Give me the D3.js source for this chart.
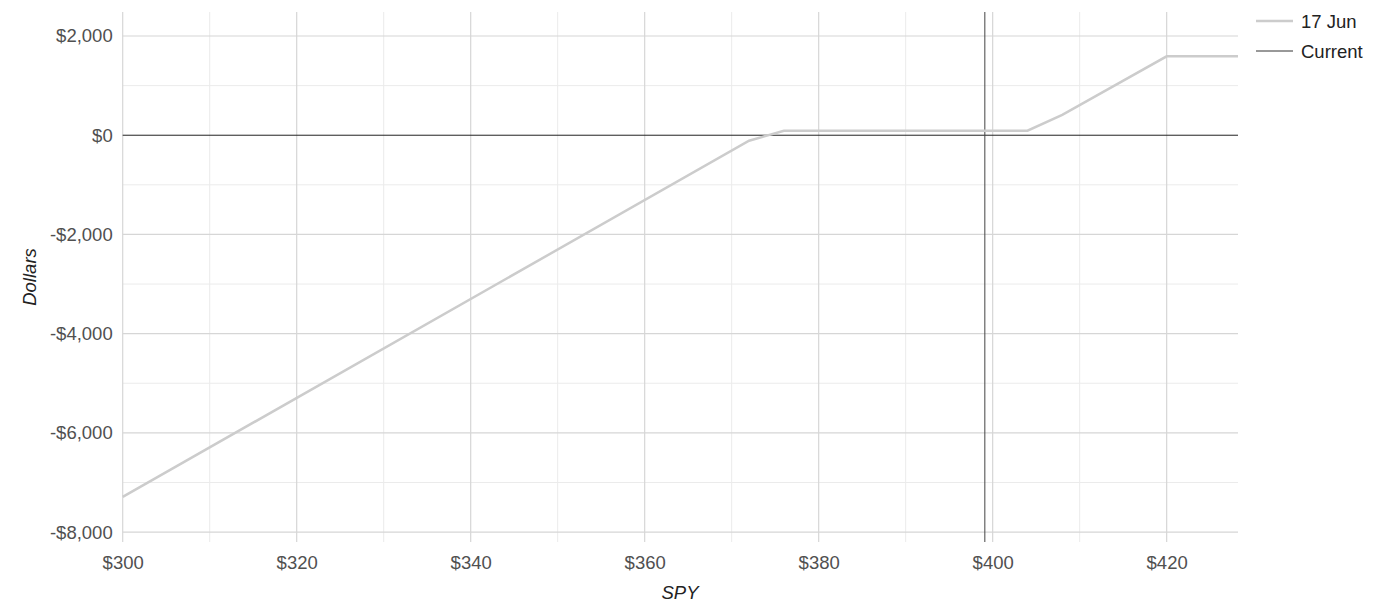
<!DOCTYPE html>
<html>
<head>
<meta charset="utf-8">
<script src="https://cdn.jsdelivr.net/npm/d3@7"></script>
<style>
  body { margin: 0; background: #fff; }
  svg { display: block; font-family: "Liberation Sans", Arial, sans-serif; }
</style>
</head>
<body>
<div id="container"></div>
<script>
// Payoff curve at expiry (SPY price -> P/L dollars)
const spyPrices = [300, 372, 376, 404, 408, 420, 428.2];
const plValues  = [-7290, -110, 90, 90, 410, 1590, 1590];

const currentPrice = 399.1;
const seriesName = "17 Jun";
const currentName = "Current";

const xMajorTicks = [300, 320, 340, 360, 380, 400, 420];
const xMinorTicks = [310, 330, 350, 370, 390, 410];
const yMajorTicks = [2000, 0, -2000, -4000, -6000, -8000];
const yMinorTicks = [1000, -1000, -3000, -5000, -7000];

const xDomain = [300, 428.2];
const yDomain = [-8200, 2484];

const W = 1394, H = 608;
const plotLeft = 122.7, plotRight = 1238, plotTop = 12, plotBottom = 542;
const fontSize = "18.5px";

const svg = d3.select("#container")
    .append("svg")
    .attr("width", W)
    .attr("height", H);

const x = d3.scaleLinear().domain(xDomain).range([plotLeft, plotRight]);
const y = d3.scaleLinear().domain(yDomain).range([plotBottom, plotTop]);

const fmtDollar = v => (v < 0 ? "-$" : "$") + d3.format(",")(Math.abs(v));

// Minor grid
svg.append("g")
    .selectAll("line")
    .data(xMinorTicks)
    .join("line")
    .attr("x1", d => x(d)).attr("x2", d => x(d))
    .attr("y1", plotTop).attr("y2", plotBottom)
    .attr("stroke", "#ebebeb").attr("stroke-width", 1);

svg.append("g")
    .selectAll("line")
    .data(yMinorTicks)
    .join("line")
    .attr("x1", plotLeft).attr("x2", plotRight)
    .attr("y1", d => y(d)).attr("y2", d => y(d))
    .attr("stroke", "#ebebeb").attr("stroke-width", 1);

// Major grid
svg.append("g")
    .selectAll("line")
    .data(xMajorTicks)
    .join("line")
    .attr("x1", d => x(d)).attr("x2", d => x(d))
    .attr("y1", plotTop).attr("y2", plotBottom)
    .attr("stroke", "#d6d6d6").attr("stroke-width", 1.2);

svg.append("g")
    .selectAll("line")
    .data(yMajorTicks.filter(d => d !== 0))
    .join("line")
    .attr("x1", plotLeft).attr("x2", plotRight)
    .attr("y1", d => y(d)).attr("y2", d => y(d))
    .attr("stroke", "#d6d6d6").attr("stroke-width", 1.2);

// X axis labels
const xAxis = svg.append("g")
    .attr("transform", "translate(0," + plotBottom + ")")
    .call(d3.axisBottom(x).tickValues(xMajorTicks).tickFormat(fmtDollar).tickSize(0).tickPadding(14));
xAxis.select(".domain").remove();
xAxis.selectAll("text")
    .attr("fill", "#505050")
    .style("font-size", fontSize)
    .style("font-family", "Liberation Sans, Arial, sans-serif");

// Y axis labels
const yAxis = svg.append("g")
    .attr("transform", "translate(" + plotLeft + ",0)")
    .call(d3.axisLeft(y).tickValues(yMajorTicks).tickFormat(fmtDollar).tickSize(0).tickPadding(10));
yAxis.select(".domain").remove();
yAxis.selectAll("text")
    .attr("fill", "#505050")
    .style("font-size", fontSize)
    .style("font-family", "Liberation Sans, Arial, sans-serif");

// Zero line
svg.append("line")
    .attr("x1", plotLeft).attr("x2", plotRight)
    .attr("y1", y(0)).attr("y2", y(0))
    .attr("stroke", "#222").attr("stroke-width", 1);

// Current price line
svg.append("line")
    .attr("x1", x(currentPrice)).attr("x2", x(currentPrice))
    .attr("y1", plotTop).attr("y2", plotBottom)
    .attr("stroke", "#444").attr("stroke-width", 1);

// Payoff line
const payoff = spyPrices.map((p, i) => ({ x: p, y: plValues[i] }));
svg.append("path")
    .datum(payoff)
    .attr("fill", "none")
    .attr("stroke", "#cccccc")
    .attr("stroke-width", 2.5)
    .attr("d", d3.line().x(d => x(d.x)).y(d => y(d.y)));

// Axis titles
svg.append("text")
    .attr("x", 680)
    .attr("y", 599)
    .attr("text-anchor", "middle")
    .style("font-size", fontSize)
    .style("font-style", "italic")
    .attr("fill", "#222")
    .text("SPY");

svg.append("text")
    .attr("transform", "translate(36,277) rotate(-90)")
    .attr("text-anchor", "middle")
    .style("font-size", fontSize)
    .style("font-style", "italic")
    .attr("fill", "#222")
    .text("Dollars");

// Legend
const legend = svg.append("g").attr("transform", "translate(1256,0)");
const legendItems = [
    { name: seriesName, color: "#cccccc", width: 2.5, y: 21 },
    { name: currentName, color: "#333", width: 1, y: 51 }
];
legendItems.forEach(item => {
    legend.append("line")
        .attr("x1", 0).attr("x2", 37)
        .attr("y1", item.y).attr("y2", item.y)
        .attr("stroke", item.color).attr("stroke-width", item.width);
    legend.append("text")
        .attr("x", 45)
        .attr("y", item.y + 6.5)
        .style("font-size", fontSize)
        .attr("fill", "#222")
        .text(item.name);
});
</script>
</body>
</html>
